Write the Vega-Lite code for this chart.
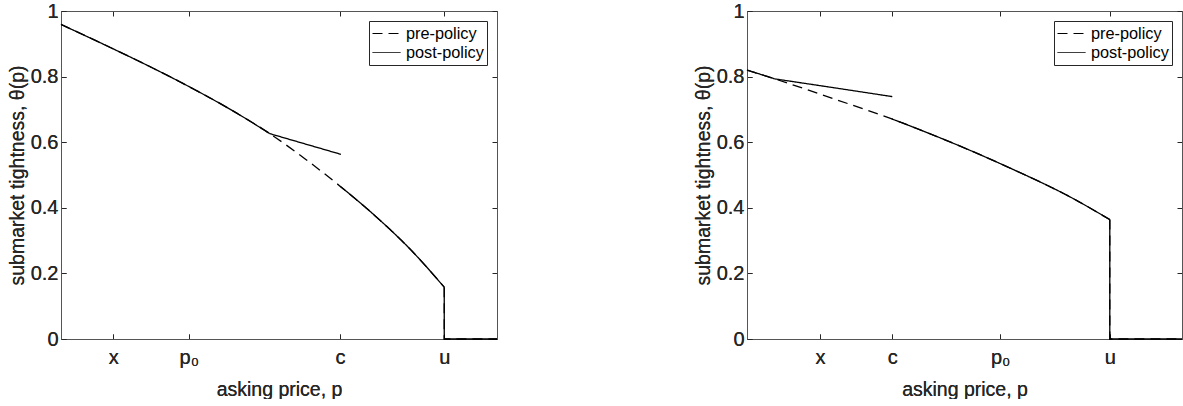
{
  "$schema": "https://vega.github.io/schema/vega-lite/v6.json",
  "bounds": "flush",
  "spacing": 250,
  "padding": {"left": 6, "top": 0, "right": 0, "bottom": 0},
  "background": "white",
  "datasets": {
    "left": [
      {"series": "pre-policy", "seg": "c1", "i": 0, "x": 0, "y": 0.959},
      {"series": "pre-policy", "seg": "c1", "i": 1, "x": 0.1, "y": 0.897},
      {"series": "pre-policy", "seg": "c1", "i": 2, "x": 0.2, "y": 0.833},
      {"series": "pre-policy", "seg": "c1", "i": 3, "x": 0.3, "y": 0.765},
      {"series": "pre-policy", "seg": "c1", "i": 4, "x": 0.4, "y": 0.691},
      {"series": "pre-policy", "seg": "c1", "i": 5, "x": 0.479, "y": 0.626},
      {"series": "pre-policy", "seg": "c1", "i": 6, "x": 0.56, "y": 0.549},
      {"series": "pre-policy", "seg": "c1", "i": 7, "x": 0.64, "y": 0.466},
      {"series": "pre-policy", "seg": "c1", "i": 8, "x": 0.72, "y": 0.376},
      {"series": "pre-policy", "seg": "c1", "i": 9, "x": 0.8, "y": 0.275},
      {"series": "pre-policy", "seg": "c1", "i": 10, "x": 0.879, "y": 0.158},
      {"series": "pre-policy", "seg": "d", "i": 11, "x": 0.879, "y": 0.158},
      {"series": "pre-policy", "seg": "d", "i": 12, "x": 0.879, "y": 0},
      {"series": "pre-policy", "seg": "d", "i": 13, "x": 1, "y": 0},
      {"series": "post-policy", "seg": "c1", "i": 0, "x": 0, "y": 0.959},
      {"series": "post-policy", "seg": "c1", "i": 1, "x": 0.1, "y": 0.897},
      {"series": "post-policy", "seg": "c1", "i": 2, "x": 0.2, "y": 0.833},
      {"series": "post-policy", "seg": "c1", "i": 3, "x": 0.3, "y": 0.765},
      {"series": "post-policy", "seg": "c1", "i": 4, "x": 0.4, "y": 0.691},
      {"series": "post-policy", "seg": "c1", "i": 5, "x": 0.479, "y": 0.626},
      {"series": "post-policy", "seg": "k", "i": 6, "x": 0.479, "y": 0.626},
      {"series": "post-policy", "seg": "k", "i": 7, "x": 0.642, "y": 0.563},
      {"series": "post-policy", "seg": "c2", "i": 8, "x": 0.64, "y": 0.466},
      {"series": "post-policy", "seg": "c2", "i": 9, "x": 0.72, "y": 0.376},
      {"series": "post-policy", "seg": "c2", "i": 10, "x": 0.8, "y": 0.275},
      {"series": "post-policy", "seg": "c2", "i": 11, "x": 0.879, "y": 0.158},
      {"series": "post-policy", "seg": "d", "i": 12, "x": 0.879, "y": 0.158},
      {"series": "post-policy", "seg": "d", "i": 13, "x": 0.879, "y": 0},
      {"series": "post-policy", "seg": "d", "i": 14, "x": 1, "y": 0}
    ],
    "right": [
      {"series": "pre-policy", "seg": "c1", "i": 0, "x": 0, "y": 0.82},
      {"series": "pre-policy", "seg": "c1", "i": 1, "x": 0.064, "y": 0.793},
      {"series": "pre-policy", "seg": "c1", "i": 2, "x": 0.2, "y": 0.732},
      {"series": "pre-policy", "seg": "c1", "i": 3, "x": 0.333, "y": 0.671},
      {"series": "pre-policy", "seg": "c1", "i": 4, "x": 0.45, "y": 0.61},
      {"series": "pre-policy", "seg": "c1", "i": 5, "x": 0.6, "y": 0.524},
      {"series": "pre-policy", "seg": "c1", "i": 6, "x": 0.75, "y": 0.428},
      {"series": "pre-policy", "seg": "c1", "i": 7, "x": 0.834, "y": 0.364},
      {"series": "pre-policy", "seg": "d", "i": 8, "x": 0.834, "y": 0.364},
      {"series": "pre-policy", "seg": "d", "i": 9, "x": 0.834, "y": 0},
      {"series": "pre-policy", "seg": "d", "i": 10, "x": 1, "y": 0},
      {"series": "post-policy", "seg": "c1", "i": 0, "x": 0, "y": 0.82},
      {"series": "post-policy", "seg": "c1", "i": 1, "x": 0.064, "y": 0.793},
      {"series": "post-policy", "seg": "k", "i": 2, "x": 0.064, "y": 0.793},
      {"series": "post-policy", "seg": "k", "i": 3, "x": 0.2, "y": 0.766},
      {"series": "post-policy", "seg": "k", "i": 4, "x": 0.334, "y": 0.739},
      {"series": "post-policy", "seg": "c2", "i": 5, "x": 0.333, "y": 0.671},
      {"series": "post-policy", "seg": "c2", "i": 6, "x": 0.45, "y": 0.61},
      {"series": "post-policy", "seg": "c2", "i": 7, "x": 0.6, "y": 0.524},
      {"series": "post-policy", "seg": "c2", "i": 8, "x": 0.75, "y": 0.428},
      {"series": "post-policy", "seg": "c2", "i": 9, "x": 0.834, "y": 0.364},
      {"series": "post-policy", "seg": "d", "i": 10, "x": 0.834, "y": 0.364},
      {"series": "post-policy", "seg": "d", "i": 11, "x": 0.834, "y": 0},
      {"series": "post-policy", "seg": "d", "i": 12, "x": 1, "y": 0}
    ]
  },
  "hconcat": [
    {
      "width": 436,
      "height": 328,
      "data": {"name": "left"},
      "encoding": {
        "x": {"field": "x", "type": "quantitative", "scale": {"domain": [0, 1], "nice": false, "zero": false},
          "axis": {"orient": "bottom", "values": [0.12, 0.293, 0.64, 0.879], "title": "asking price, p",
            "labelExpr": "datum.value < 0.2 ? 'x' : datum.value < 0.4 ? 'p₀' : datum.value < 0.7 ? 'c' : 'u'"}},
        "y": {"field": "y", "type": "quantitative", "scale": {"domain": [0, 1], "nice": false, "zero": false},
          "axis": {"orient": "left", "values": [0, 0.2, 0.4, 0.6, 0.8, 1], "title": "submarket tightness,  θ(p)",
            "labelExpr": "format(datum.value, '~g')"}},
        "strokeDash": {"field": "series", "type": "nominal",
          "scale": {"domain": ["pre-policy", "post-policy"], "range": [[10, 6], [1, 0]]},
          "legend": {"orient": "top-right", "title": null}},
        "detail": {"field": "seg"},
        "order": {"field": "i", "type": "quantitative"}
      },
      "layer": [
        {
          "transform": [{"filter": "datum.seg != 'd'"}],
          "mark": {"type": "line", "color": "black", "strokeWidth": 1.3, "interpolate": "monotone"}
        },
        {
          "transform": [{"filter": "datum.seg == 'd'"}],
          "mark": {"type": "line", "color": "black", "strokeWidth": 1.3}
        },
        {
          "mark": {"type": "line", "strokeOpacity": 0},
          "encoding": {
            "x": {"field": "x", "type": "quantitative", "axis": {"orient": "top", "values": [0.12, 0.293, 0.64, 0.879], "labels": false, "title": null}},
            "y": {"field": "y", "type": "quantitative", "axis": {"orient": "right", "values": [0, 0.2, 0.4, 0.6, 0.8, 1], "labels": false, "title": null}},
            "strokeDash": null
          }
        }
      ],
      "resolve": {"axis": {"x": "independent", "y": "independent"}}
    },
    {
      "width": 435,
      "height": 328,
      "data": {"name": "right"},
      "encoding": {
        "x": {"field": "x", "type": "quantitative", "scale": {"domain": [0, 1], "nice": false, "zero": false},
          "axis": {"orient": "bottom", "values": [0.168, 0.334, 0.582, 0.834], "title": "asking price, p",
            "labelExpr": "datum.value < 0.25 ? 'x' : datum.value < 0.45 ? 'c' : datum.value < 0.7 ? 'p₀' : 'u'"}},
        "y": {"field": "y", "type": "quantitative", "scale": {"domain": [0, 1], "nice": false, "zero": false},
          "axis": {"orient": "left", "values": [0, 0.2, 0.4, 0.6, 0.8, 1], "title": "submarket tightness,  θ(p)",
            "labelExpr": "format(datum.value, '~g')"}},
        "strokeDash": {"field": "series", "type": "nominal",
          "scale": {"domain": ["pre-policy", "post-policy"], "range": [[10, 6], [1, 0]]},
          "legend": {"orient": "top-right", "title": null}},
        "detail": {"field": "seg"},
        "order": {"field": "i", "type": "quantitative"}
      },
      "layer": [
        {
          "transform": [{"filter": "datum.seg != 'd'"}],
          "mark": {"type": "line", "color": "black", "strokeWidth": 1.3, "interpolate": "monotone"}
        },
        {
          "transform": [{"filter": "datum.seg == 'd'"}],
          "mark": {"type": "line", "color": "black", "strokeWidth": 1.3}
        },
        {
          "mark": {"type": "line", "strokeOpacity": 0},
          "encoding": {
            "x": {"field": "x", "type": "quantitative", "axis": {"orient": "top", "values": [0.168, 0.334, 0.582, 0.834], "labels": false, "title": null}},
            "y": {"field": "y", "type": "quantitative", "axis": {"orient": "right", "values": [0, 0.2, 0.4, 0.6, 0.8, 1], "labels": false, "title": null}},
            "strokeDash": null
          }
        }
      ],
      "resolve": {"axis": {"x": "independent", "y": "independent"}}
    }
  ],
  "resolve": {"legend": {"strokeDash": "independent"}, "scale": {"strokeDash": "independent"}},
  "config": {
    "font": "Liberation Sans",
    "view": {"stroke": "#555555", "strokeWidth": 1},
    "axis": {
      "grid": false,
      "domainColor": "#555555",
      "domainWidth": 1,
      "tickColor": "#262626",
      "tickSize": -5,
      "labelColor": "#262626",
      "titleColor": "#262626",
      "labelFont": "Liberation Sans",
      "titleFont": "Liberation Sans",
      "labelFontSize": 20,
      "titleFontSize": 19.5,
      "titleFontWeight": "normal"
    },
    "axisX": {"labelPadding": 13, "titlePadding": 13},
    "axisY": {"labelPadding": 8, "titlePadding": 3},
    "legend": {
      "strokeColor": "#262626",
      "fillColor": "white",
      "padding": 3,
      "offset": 10,
      "cornerRadius": 0,
      "symbolType": "stroke",
      "symbolStrokeColor": "black",
      "symbolStrokeWidth": 1,
      "symbolSize": 784,
      "clipHeight": 19,
      "labelFont": "Liberation Sans",
      "labelFontSize": 16.3,
      "labelColor": "black",
      "labelOffset": 5,
      "rowPadding": 0
    }
  }
}
